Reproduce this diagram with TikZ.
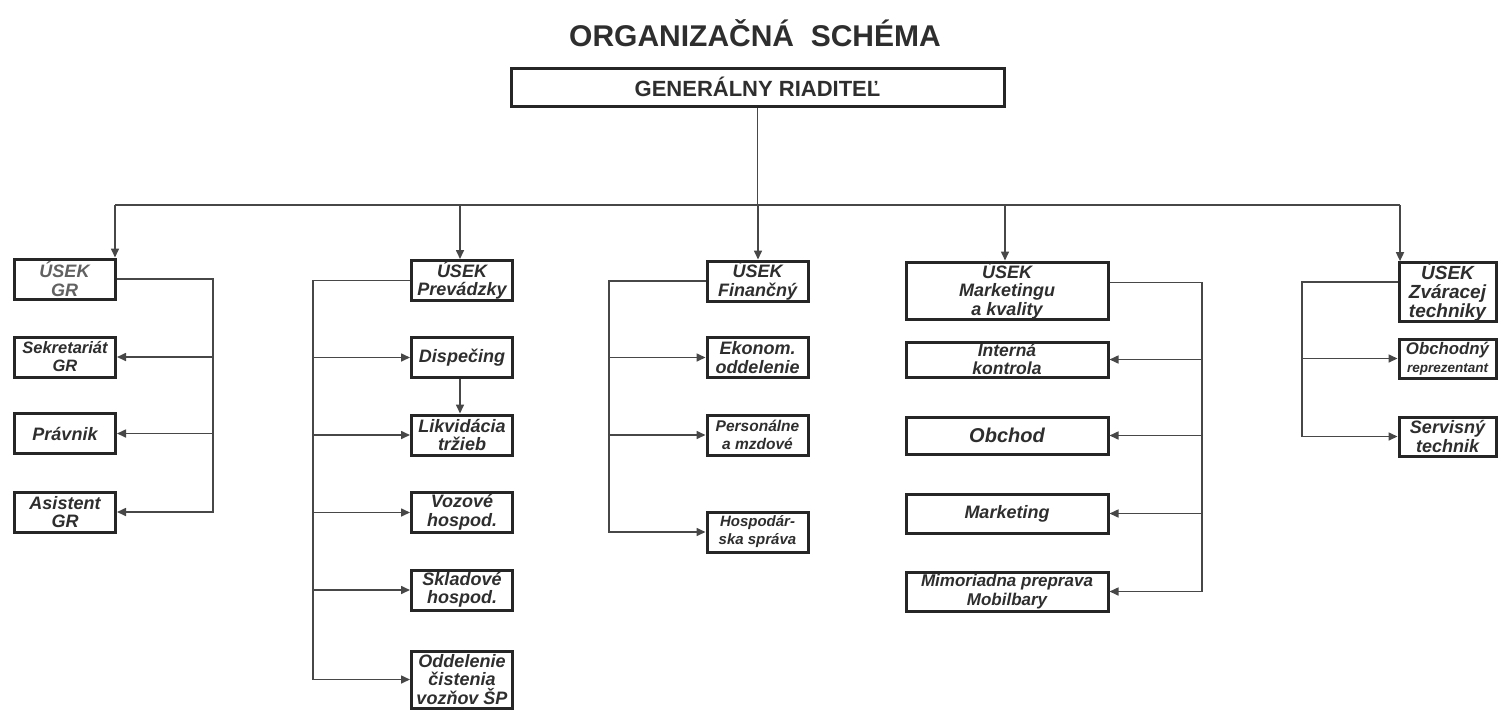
\documentclass[tikz,border=0pt]{standalone}
\usepackage{fontspec}
\setmainfont{Liberation Sans}
\usetikzlibrary{arrows.meta}
\newcommand\fsz[2]{\fontsize{#1}{#2}\selectfont}
\begin{document}
\begin{tikzpicture}[x=1pt,y=-1pt,
  box/.style={draw=black!85, line width=3pt, align=center, text=black!82,
    font=\bfseries\itshape\fsz{18}{18.5}, inner sep=0pt},
  conn/.style={draw=black!72, line width=1.6pt},
  arr/.style={conn, -{Triangle[length=9pt,width=8pt]}},
  sw/.style={minimum width=101pt, minimum height=40pt}]
\useasboundingbox[fill=white] (0,0) rectangle (1499,710);

\node[text=black!82, font=\bfseries\fsz{30}{32}] (title) at (755,33) {ORGANIZAČNÁ\ \ SCHÉMA};
\node[box, minimum width=493pt, minimum height=38pt, font=\bfseries\fsz{22}{24}] (gr) at (757.5,87) {GENERÁLNY RIADITEĽ};

% level 1
\node[box, sw, text=black!62] (usekgr) at (64.5,279) {ÚSEK\\GR};
\node[box, sw] (usekprev) at (462,280.5) {ÚSEK\\Prevádzky};
\node[box, sw] (usekfin) at (757.5,281) {ÚSEK\\Finančný};
\node[box, minimum width=202pt, minimum height=57pt] (usekmark) at (1007,290.5) {ÚSEK\\Marketingu\\a kvality};
\node[box, minimum width=97pt, minimum height=58pt, font=\bfseries\itshape\fsz{19}{19}] (usekzv) at (1447.5,292) {ÚSEK\\Zváracej\\techniky};

% GR
\node[box, sw, font=\bfseries\itshape\fsz{16.5}{18}] (sekr) at (65,357) {Sekretariát\\GR};
\node[box, sw] (prav) at (65,433.5) {Právnik};
\node[box, sw] (asist) at (65,512) {Asistent\\GR};

% Prevadzka
\node[box, sw] (disp) at (462,357.5) {Dispečing};
\node[box, sw] (likv) at (462,435) {Likvidácia\\tržieb};
\node[box, sw] (voz) at (462,512.5) {Vozové\\hospod.};
\node[box, sw] (sklad) at (462,590) {Skladové\\hospod.};
\node[box, sw, minimum height=57pt] (odd) at (462,679.5) {Oddelenie\\čistenia\\vozňov ŠP};

% Financny
\node[box, sw] (ekon) at (757.5,357.5) {Ekonom.\\oddelenie};
\node[box, sw, font=\bfseries\itshape\fsz{15.5}{18}] (pers) at (757.5,435) {Personálne\\a mzdové};
\node[box, sw, font=\bfseries\itshape\fsz{15}{18}] (hosp) at (757.5,532) {Hospodár-\\ska správa};

% Marketing
\node[box, minimum width=202pt, minimum height=35pt, font=\bfseries\itshape\fsz{17.5}{18}] (interna) at (1007,359.5) {Interná\\kontrola};
\node[box, minimum width=202pt, minimum height=37pt, font=\bfseries\itshape\fsz{20}{20}] (obchod) at (1007,435.5) {Obchod};
\node[box, minimum width=202pt, minimum height=39pt] (mkt) at (1007,513.5) {Marketing};
\node[box, minimum width=202pt, minimum height=39pt, font=\bfseries\itshape\fsz{17}{19}] (mimo) at (1007,591.5) {Mimoriadna preprava\\Mobilbary};

% Zvaracia
\node[box, minimum width=97pt, minimum height=39pt, font=\bfseries\itshape\fsz{16.8}{18}] (obchr) at (1447.5,358.5) {Obchodný\\{\fsz{13.5}{15}reprezentant}};
\node[box, minimum width=97pt, minimum height=39pt] (serv) at (1447.5,436.5) {Servisný\\technik};

% top connectors
\coordinate (hub) at (757.5,205);
\coordinate (b1) at (115,205);
\coordinate (b2) at (460,205);
\coordinate (b3) at (758,205);
\coordinate (b4) at (1005,205);
\coordinate (b5) at (1400,205);
\draw[conn] (gr.south) -- (hub);
\draw[conn] (b1) -- (b5);
\draw[arr] (b1) -- (b1 |- usekgr.north);
\draw[arr] (b2) -- (b2 |- usekprev.north);
\draw[arr] (b3) -- (b3 |- usekfin.north);
\draw[arr] (b4) -- (b4 |- usekmark.north);
\draw[arr] (b5) -- (b5 |- usekzv.north);

% GR bracket
\coordinate (g1) at (213,0);
\draw[arr] (usekgr.east) -- (usekgr.east -| g1) |- (asist.east);
\draw[arr] (sekr.east -| g1) -- (sekr.east);
\draw[arr] (prav.east -| g1) -- (prav.east);

% Prevadzka bracket
\coordinate (g2) at (313,0);
\draw[arr] (usekprev.west) -- (usekprev.west -| g2) |- (odd.west);
\draw[arr] (disp.west -| g2) -- (disp.west);
\draw[arr] (likv.west -| g2) -- (likv.west);
\draw[arr] (voz.west -| g2) -- (voz.west);
\draw[arr] (sklad.west -| g2) -- (sklad.west);
\draw[arr] (disp.south -| b2) -- (likv.north -| b2);

% Financny bracket
\coordinate (g3) at (609,0);
\draw[arr] (usekfin.west) -- (usekfin.west -| g3) |- (hosp.west);
\draw[arr] (ekon.west -| g3) -- (ekon.west);
\draw[arr] (pers.west -| g3) -- (pers.west);

% Marketing bracket
\coordinate (g4) at (1202,0);
\draw[arr] ([yshift=8pt]usekmark.east) -- ([yshift=8pt]usekmark.east -| g4) |- (mimo.east);
\draw[arr] (interna.east -| g4) -- (interna.east);
\draw[arr] (obchod.east -| g4) -- (obchod.east);
\draw[arr] (mkt.east -| g4) -- (mkt.east);

% Zvaracia bracket
\coordinate (g5) at (1302,0);
\draw[arr] ([yshift=10pt]usekzv.west) -- ([yshift=10pt]usekzv.west -| g5) |- (serv.west);
\draw[arr] (obchr.west -| g5) -- (obchr.west);
\end{tikzpicture}
\end{document}
